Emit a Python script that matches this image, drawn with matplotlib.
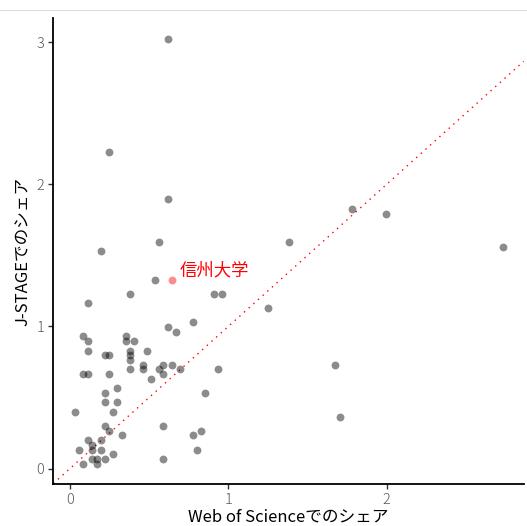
import numpy as np
import matplotlib
matplotlib.use('Agg')
import matplotlib.pyplot as plt
from matplotlib.lines import Line2D

plt.rcParams['font.family'] = ['Noto Sans CJK JP', 'DejaVu Sans']

# share in Web of Science (x) vs share in J-STAGE (y), per university
wos_share = [
    0.616, 0.246, 0.616, 0.563, 1.386, 0.194, 0.536, 0.379, 0.907, 0.959,
    0.115, 1.252, 1.784, 1.994, 2.736, 1.676, 1.702, 0.778, 0.616, 0.669,
    0.084, 0.353, 0.115, 0.353, 0.406, 0.379, 0.484, 0.115, 0.221, 0.248,
    0.379, 0.379, 0.459, 0.589, 0.644, 0.379, 0.459, 0.563, 0.694, 0.936,
    0.084, 0.115, 0.248, 0.589, 0.511, 0.298, 0.221, 0.854, 0.221, 0.298,
    0.032, 0.273, 0.221, 0.589, 0.248, 0.326, 0.778, 0.828, 0.115, 0.194,
    0.137, 0.059, 0.137, 0.194, 0.801, 0.273, 0.137, 0.168, 0.221, 0.589,
    0.084, 0.168,
]
jstage_share = [
    3.025, 2.227, 1.893, 1.595, 1.595, 1.530, 1.330, 1.229, 1.229, 1.229,
    1.163, 1.130, 1.827, 1.794, 1.562, 0.731, 0.365, 1.030, 0.999, 0.963,
    0.933, 0.933, 0.898, 0.898, 0.898, 0.830, 0.830, 0.830, 0.799, 0.799,
    0.799, 0.764, 0.729, 0.729, 0.729, 0.699, 0.699, 0.699, 0.699, 0.699,
    0.665, 0.665, 0.665, 0.665, 0.630, 0.565, 0.534, 0.534, 0.466, 0.466,
    0.400, 0.400, 0.299, 0.299, 0.266, 0.234, 0.234, 0.266, 0.201, 0.201,
    0.165, 0.132, 0.132, 0.132, 0.132, 0.100, 0.067, 0.067, 0.067, 0.067,
    0.034, 0.034,
]
shinshu_x = 0.644
shinshu_y = 1.330
shinshu_label = '信州大学'

fig = plt.figure(figsize=(5.27, 5.26), dpi=100)
ax = fig.add_axes([0.1012, 0.0798, 0.8925, 0.886])

ax.axline((0, 0), slope=1, color='red', lw=1.0, linestyle=(0, (1, 3.5)), zorder=1)
ax.scatter(wos_share, jstage_share, s=32, color='black', alpha=0.45, linewidths=0, zorder=2)
ax.scatter([shinshu_x], [shinshu_y], s=32, color='red', alpha=0.45, linewidths=0, zorder=3)
ax.text(shinshu_x + 0.05, shinshu_y + 0.065, shinshu_label, color='red', fontsize=12.5,
        ha='left', va='center')

ax.set_xlim(-0.105, 2.865)
ax.set_ylim(-0.109, 3.17)
ax.set_xticks([0, 1, 2])
ax.set_yticks([0, 1, 2, 3])

for side in ['top', 'right']:
    ax.spines[side].set_visible(False)
for side in ['left', 'bottom']:
    ax.spines[side].set_linewidth(1.3)
    ax.spines[side].set_color('black')
ax.tick_params(length=3.5, width=1.0, color='#333333', labelcolor='#595959',
               labelsize=10.5, pad=3)
for lab in ax.get_xticklabels() + ax.get_yticklabels():
    lab.set_fontweight('light')

ax.set_xlabel('Web of Scienceでのシェア', fontsize=12, labelpad=1)
ax.set_ylabel('J-STAGEでのシェア', fontsize=12, labelpad=3)

# thin grey rule at the top of the image
fig.add_artist(Line2D([0, 1], [0.981, 0.981], color='#dddddd', lw=0.8,
                      transform=fig.transFigure))

fig.savefig('out.png', dpi=100)
